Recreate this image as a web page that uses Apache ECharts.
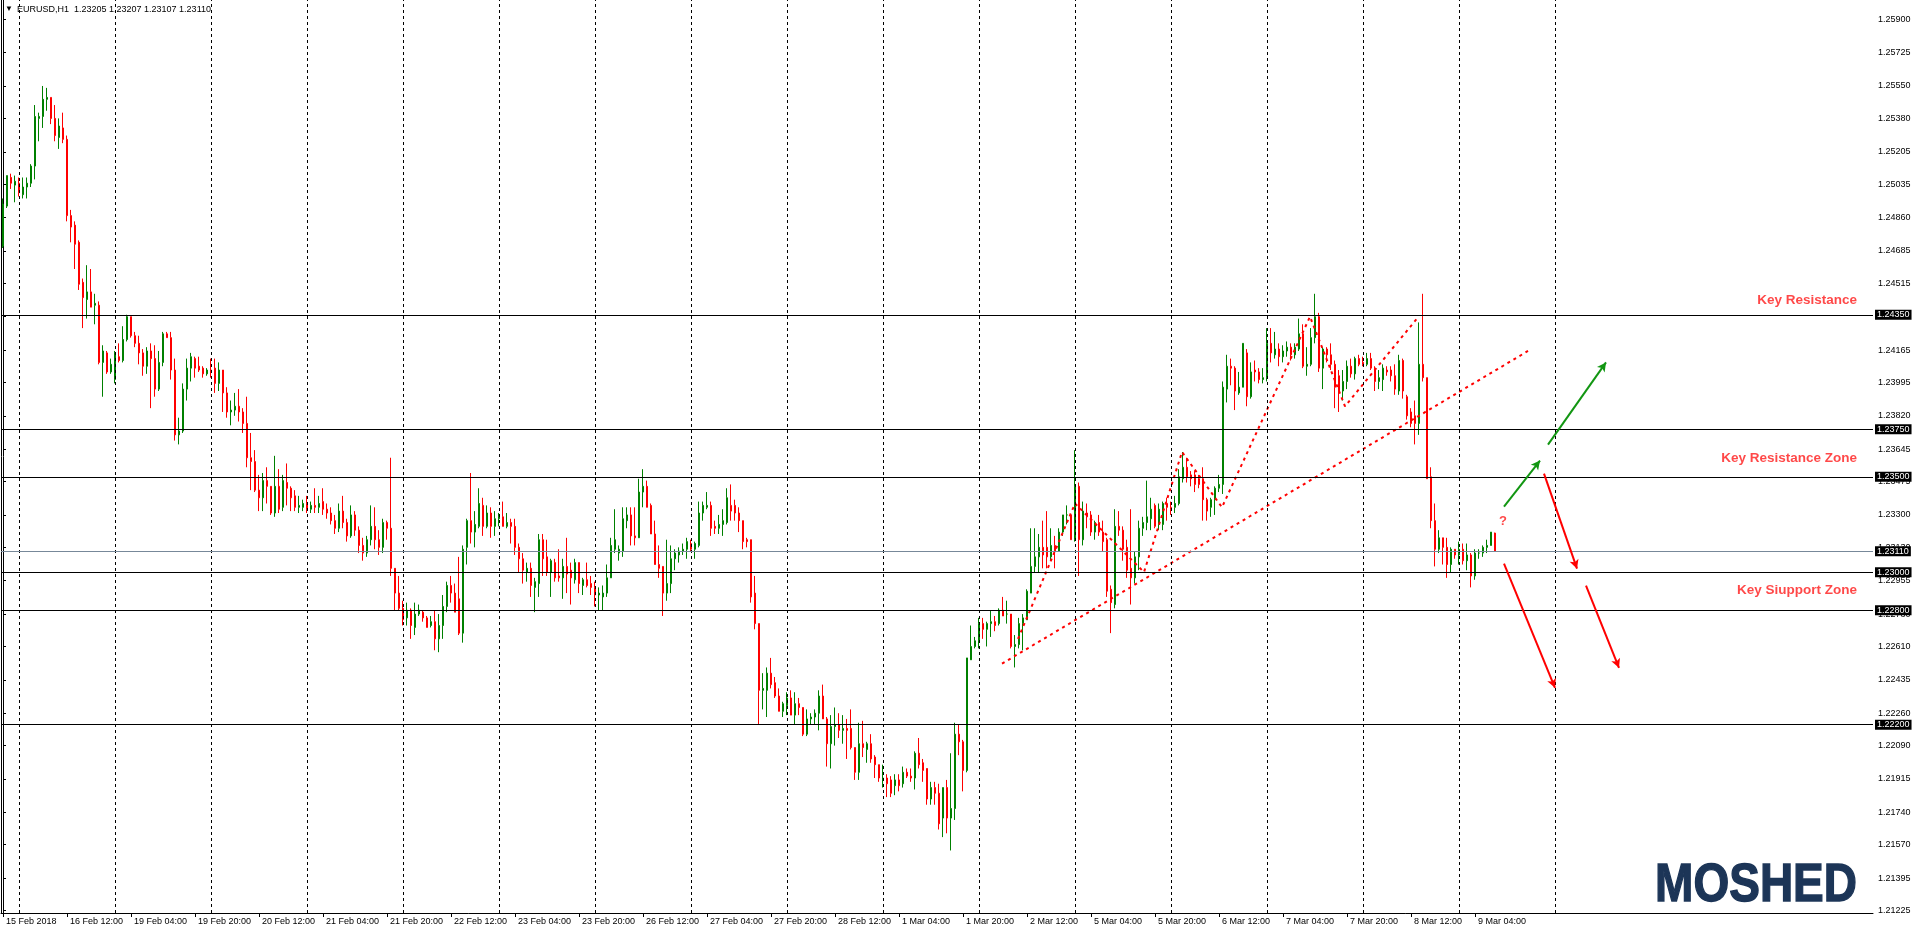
<!DOCTYPE html>
<html><head><meta charset="utf-8">
<script src="https://cdn.jsdelivr.net/npm/echarts@6/dist/echarts.min.js"></script>
<style>html,body{margin:0;padding:0;background:#fff;}#c{width:1916px;height:934px;}</style>
</head><body><div id="c"></div>
<script>
// ---- data ----
const symbolName = 'EURUSD,H1';
const timeLabels = ['15 Feb 2018','16 Feb 12:00','19 Feb 04:00','19 Feb 20:00','20 Feb 12:00','21 Feb 04:00','21 Feb 20:00','22 Feb 12:00','23 Feb 04:00','23 Feb 20:00','26 Feb 12:00','27 Feb 04:00','27 Feb 20:00','28 Feb 12:00','1 Mar 04:00','1 Mar 20:00','2 Mar 12:00','5 Mar 04:00','5 Mar 20:00','6 Mar 12:00','7 Mar 04:00','7 Mar 20:00','8 Mar 12:00','9 Mar 04:00'];
const priceTicks = [1.21225,1.21395,1.2157,1.2174,1.21915,1.2209,1.2226,1.22435,1.2261,1.2278,1.22955,1.2313,1.233,1.23475,1.23645,1.2382,1.23995,1.24165,1.2434,1.24515,1.24685,1.2486,1.25035,1.25205,1.2538,1.2555,1.25725,1.259];
const keyLevels = [1.2435,1.2375,1.2350,1.2300,1.2280,1.2220];
const bidPrice = 1.2311;
// hourly candles: [open, high, low, close]
const ohlc = [
[1.2471,1.2496,1.2470,1.2493],[1.2492,1.2508,1.2491,1.2508],[1.2507,1.2509,1.2501,1.2504],[1.2503,1.2508,1.2494,1.2505],[1.2504,1.2507,1.2497,1.2499],
[1.2498,1.2507,1.2496,1.2502],[1.2502,1.2507,1.2496,1.2504],[1.2504,1.2514,1.2502,1.2513],[1.2513,1.2545,1.2506,1.2539],[1.2538,1.2541,1.2526,1.2539],
[1.2539,1.2555,1.2533,1.2548],[1.2548,1.2554,1.2542,1.2549],[1.2549,1.2549,1.2535,1.2538],[1.2538,1.2545,1.2526,1.2529],[1.2528,1.2538,1.2522,1.2534],
[1.2533,1.2541,1.2525,1.2527],[1.2527,1.2529,1.2484,1.2487],[1.2487,1.2490,1.2473,1.2481],[1.2482,1.2484,1.2459,1.2472],[1.2473,1.2474,1.2448,1.2451],
[1.2452,1.2454,1.2428,1.2444],[1.2443,1.2461,1.2433,1.2447],[1.2447,1.2459,1.2439,1.2439],[1.2440,1.2446,1.2430,1.2441],[1.2440,1.2442,1.2409,1.2410],
[1.2410,1.2419,1.2392,1.2416],[1.2415,1.2416,1.2404,1.2405],[1.2405,1.2412,1.2404,1.2409],[1.2401,1.2416,1.2399,1.2415],[1.2413,1.2420,1.2410,1.2411],
[1.2411,1.2429,1.2410,1.2422],[1.2422,1.2435,1.2421,1.2434],[1.2434,1.2434,1.2423,1.2424],[1.2424,1.2426,1.2418,1.2420],[1.2420,1.2424,1.2409,1.2415],
[1.2415,1.2417,1.2403,1.2408],[1.2408,1.2418,1.2404,1.2416],[1.2416,1.2420,1.2386,1.2412],[1.2412,1.2419,1.2392,1.2396],[1.2396,1.2416,1.2395,1.2410],
[1.2410,1.2426,1.2408,1.2425],[1.2425,1.2426,1.2423,1.2423],[1.2423,1.2426,1.2401,1.2406],[1.2406,1.2412,1.2369,1.2372],[1.2372,1.2381,1.2367,1.2374],
[1.2374,1.2399,1.2373,1.2396],[1.2396,1.2412,1.2390,1.2407],[1.2407,1.2415,1.2400,1.2413],[1.2412,1.2413,1.2402,1.2407],[1.2408,1.2413,1.2405,1.2406],
[1.2407,1.2408,1.2402,1.2404],[1.2404,1.2407,1.2403,1.2406],[1.2406,1.2412,1.2402,1.2405],[1.2407,1.2412,1.2394,1.2399],[1.2399,1.2410,1.2395,1.2406],
[1.2406,1.2406,1.2384,1.2394],[1.2394,1.2397,1.2381,1.2384],[1.2384,1.2390,1.2377,1.2385],[1.2385,1.2394,1.2382,1.2387],[1.2387,1.2396,1.2379,1.2384],
[1.2384,1.2386,1.2373,1.2378],[1.2378,1.2392,1.2355,1.2360],[1.2360,1.2373,1.2343,1.2358],[1.2358,1.2364,1.2342,1.2343],[1.2343,1.2351,1.2332,1.2339],
[1.2339,1.2352,1.2332,1.2348],[1.2348,1.2355,1.2336,1.2345],[1.2345,1.2345,1.2330,1.2331],[1.2331,1.2361,1.2329,1.2345],[1.2345,1.2354,1.2331,1.2333],
[1.2334,1.2351,1.2332,1.2348],[1.2347,1.2357,1.2335,1.2344],[1.2344,1.2345,1.2332,1.2339],[1.2340,1.2343,1.2332,1.2334],[1.2334,1.2340,1.2331,1.2335],
[1.2334,1.2338,1.2332,1.2336],[1.2336,1.2340,1.2331,1.2333],[1.2333,1.2337,1.2331,1.2335],[1.2335,1.2344,1.2331,1.2334],[1.2334,1.2340,1.2331,1.2336],
[1.2337,1.2344,1.2330,1.2333],[1.2333,1.2336,1.2328,1.2331],[1.2331,1.2334,1.2325,1.2327],[1.2327,1.2330,1.2320,1.2323],[1.2323,1.2336,1.2321,1.2332],
[1.2332,1.2340,1.2323,1.2326],[1.2326,1.2328,1.2316,1.2319],[1.2319,1.2335,1.2318,1.2330],[1.2330,1.2332,1.2319,1.2322],[1.2322,1.2324,1.2310,1.2314],
[1.2314,1.2318,1.2306,1.2310],[1.2310,1.2319,1.2308,1.2317],[1.2317,1.2335,1.2314,1.2324],[1.2324,1.2334,1.2312,1.2317],[1.2317,1.2322,1.2309,1.2313],
[1.2313,1.2328,1.2310,1.2326],[1.2326,1.2327,1.2317,1.2323],[1.2323,1.2360,1.2298,1.2302],[1.2302,1.2302,1.2280,1.2289],[1.2289,1.2298,1.2280,1.2281],
[1.2281,1.2285,1.2272,1.2275],[1.2276,1.2284,1.2272,1.2280],[1.2280,1.2281,1.2265,1.2272],[1.2271,1.2284,1.2267,1.2278],[1.2278,1.2283,1.2277,1.2280],
[1.2279,1.2280,1.2274,1.2276],[1.2276,1.2277,1.2271,1.2271],[1.2272,1.2277,1.2271,1.2274],[1.2274,1.2280,1.2259,1.2265],[1.2265,1.2278,1.2258,1.2272],
[1.2272,1.2288,1.2265,1.2282],[1.2282,1.2295,1.2279,1.2293],[1.2293,1.2298,1.2284,1.2289],[1.2289,1.2294,1.2279,1.2279],[1.2286,1.2308,1.2267,1.2268],
[1.2268,1.2314,1.2263,1.2312],[1.2313,1.2328,1.2304,1.2327],[1.2327,1.2352,1.2315,1.2321],[1.2321,1.2332,1.2313,1.2325],[1.2324,1.2344,1.2323,1.2336],
[1.2335,1.2339,1.2319,1.2324],[1.2324,1.2335,1.2323,1.2331],[1.2331,1.2334,1.2318,1.2324],[1.2324,1.2332,1.2319,1.2328],[1.2328,1.2331,1.2324,1.2329],
[1.2329,1.2337,1.2324,1.2324],[1.2324,1.2331,1.2323,1.2326],[1.2326,1.2328,1.2315,1.2324],[1.2324,1.2328,1.2309,1.2313],[1.2313,1.2315,1.2300,1.2307],
[1.2307,1.2310,1.2294,1.2301],[1.2300,1.2305,1.2295,1.2302],[1.2302,1.2305,1.2287,1.2293],[1.2292,1.2297,1.2279,1.2295],[1.2294,1.2320,1.2287,1.2317],
[1.2317,1.2320,1.2298,1.2307],[1.2308,1.2317,1.2298,1.2300],[1.2300,1.2307,1.2287,1.2306],[1.2305,1.2307,1.2295,1.2297],[1.2298,1.2312,1.2295,1.2297],
[1.2297,1.2307,1.2286,1.2303],[1.2303,1.2318,1.2289,1.2299],[1.2301,1.2305,1.2283,1.2297],[1.2296,1.2307,1.2294,1.2305],[1.2305,1.2305,1.2289,1.2294],
[1.2293,1.2297,1.2288,1.2296],[1.2296,1.2305,1.2292,1.2293],[1.2294,1.2298,1.2288,1.2292],[1.2292,1.2295,1.2282,1.2288],[1.2288,1.2292,1.2280,1.2289],
[1.2287,1.2293,1.2280,1.2289],[1.2289,1.2304,1.2287,1.2297],[1.2297,1.2318,1.2297,1.2314],[1.2312,1.2333,1.2310,1.2317],[1.2310,1.2314,1.2306,1.2312],
[1.2311,1.2334,1.2308,1.2328],[1.2327,1.2334,1.2323,1.2330],[1.2330,1.2334,1.2314,1.2319],[1.2319,1.2334,1.2314,1.2318],[1.2318,1.2349,1.2318,1.2342],
[1.2342,1.2354,1.2334,1.2345],[1.2345,1.2348,1.2334,1.2334],[1.2335,1.2336,1.2320,1.2320],[1.2320,1.2327,1.2304,1.2304],[1.2304,1.2314,1.2297,1.2302],
[1.2303,1.2303,1.2277,1.2289],[1.2289,1.2317,1.2285,1.2294],[1.2294,1.2314,1.2289,1.2307],[1.2307,1.2312,1.2301,1.2310],[1.2309,1.2313,1.2305,1.2311],
[1.2311,1.2315,1.2309,1.2312],[1.2312,1.2318,1.2307,1.2316],[1.2315,1.2317,1.2311,1.2312],[1.2312,1.2316,1.2307,1.2315],[1.2314,1.2337,1.2313,1.2331],
[1.2331,1.2337,1.2327,1.2335],[1.2334,1.2342,1.2333,1.2335],[1.2335,1.2337,1.2319,1.2323],[1.2324,1.2327,1.2320,1.2323],[1.2323,1.2330,1.2320,1.2325],
[1.2325,1.2333,1.2319,1.2327],[1.2326,1.2344,1.2325,1.2339],[1.2335,1.2346,1.2327,1.2332],[1.2335,1.2338,1.2327,1.2331],[1.2331,1.2334,1.2321,1.2327],
[1.2327,1.2327,1.2312,1.2316],[1.2317,1.2318,1.2313,1.2316],[1.2317,1.2317,1.2284,1.2287],[1.2289,1.2298,1.2270,1.2273],[1.2273,1.2273,1.2220,1.2238],
[1.2238,1.2247,1.2228,1.2239],[1.2238,1.2250,1.2224,1.2247],[1.2247,1.2255,1.2239,1.2241],[1.2242,1.2245,1.2234,1.2235],[1.2235,1.2239,1.2227,1.2227],
[1.2227,1.2232,1.2224,1.2231],[1.2230,1.2237,1.2225,1.2234],[1.2234,1.2238,1.2225,1.2225],[1.2225,1.2237,1.2220,1.2231],[1.2231,1.2234,1.2225,1.2229],
[1.2229,1.2229,1.2214,1.2215],[1.2215,1.2228,1.2214,1.2223],[1.2223,1.2226,1.2220,1.2224],[1.2224,1.2228,1.2220,1.2226],[1.2226,1.2238,1.2217,1.2235],
[1.2235,1.2241,1.2223,1.2223],[1.2223,1.2224,1.2198,1.2210],[1.2210,1.2225,1.2197,1.2219],[1.2219,1.2229,1.2209,1.2220],[1.2220,1.2226,1.2213,1.2217],
[1.2217,1.2225,1.2210,1.2218],[1.2218,1.2223,1.2202,1.2217],[1.2218,1.2228,1.2207,1.2208],[1.2208,1.2208,1.2191,1.2195],[1.2195,1.2221,1.2191,1.2210],
[1.2210,1.2222,1.2203,1.2208],[1.2207,1.2211,1.2200,1.2210],[1.2210,1.2215,1.2200,1.2202],[1.2203,1.2204,1.2192,1.2199],[1.2199,1.2199,1.2190,1.2192],
[1.2191,1.2199,1.2187,1.2192],[1.2192,1.2194,1.2182,1.2189],[1.2191,1.2193,1.2182,1.2184],[1.2188,1.2194,1.2183,1.2191],[1.2191,1.2194,1.2185,1.2188],
[1.2189,1.2198,1.2187,1.2195],[1.2195,1.2197,1.2192,1.2193],[1.2193,1.2197,1.2190,1.2192],[1.2192,1.2206,1.2186,1.2205],[1.2205,1.2213,1.2197,1.2199],
[1.2200,1.2202,1.2190,1.2196],[1.2197,1.2197,1.2178,1.2181],[1.2181,1.2190,1.2178,1.2187],[1.2187,1.2190,1.2178,1.2184],[1.2184,1.2189,1.2165,1.2168],
[1.2171,1.2187,1.2161,1.2187],[1.2187,1.2191,1.2163,1.2171],[1.2171,1.2205,1.2154,1.2176],[1.2176,1.2221,1.2170,1.2215],[1.2215,1.2220,1.2204,1.2211],
[1.2211,1.2212,1.2185,1.2196],[1.2196,1.2255,1.2195,1.2255],[1.2254,1.2272,1.2254,1.2261],[1.2261,1.2266,1.2260,1.2264],[1.2264,1.2276,1.2260,1.2273],
[1.2273,1.2276,1.2265,1.2270],[1.2270,1.2274,1.2261,1.2273],[1.2273,1.2280,1.2266,1.2274],[1.2274,1.2277,1.2269,1.2272],[1.2273,1.2281,1.2272,1.2280],
[1.2280,1.2287,1.2277,1.2277],[1.2278,1.2285,1.2273,1.2278],[1.2278,1.2278,1.2260,1.2261],[1.2261,1.2267,1.2250,1.2262],[1.2262,1.2276,1.2260,1.2273],
[1.2273,1.2278,1.2259,1.2276],[1.2275,1.2291,1.2275,1.2290],[1.2289,1.2323,1.2289,1.2303],[1.2303,1.2323,1.2300,1.2308],[1.2308,1.2320,1.2300,1.2313],
[1.2313,1.2327,1.2302,1.2309],[1.2313,1.2332,1.2302,1.2308],[1.2308,1.2323,1.2306,1.2314],[1.2314,1.2319,1.2302,1.2311],[1.2311,1.2323,1.2311,1.2321],
[1.2321,1.2330,1.2319,1.2330],[1.2330,1.2335,1.2325,1.2330],[1.2330,1.2330,1.2317,1.2317],[1.2317,1.2364,1.2316,1.2345],[1.2345,1.2347,1.2298,1.2317],
[1.2317,1.2337,1.2314,1.2332],[1.2331,1.2336,1.2323,1.2329],[1.2330,1.2332,1.2319,1.2321],[1.2321,1.2327,1.2317,1.2326],[1.2326,1.2330,1.2319,1.2321],
[1.2321,1.2327,1.2311,1.2316],[1.2317,1.2318,1.2287,1.2290],[1.2291,1.2293,1.2268,1.2284],[1.2283,1.2333,1.2281,1.2324],[1.2324,1.2332,1.2319,1.2322],
[1.2322,1.2324,1.2306,1.2312],[1.2313,1.2317,1.2297,1.2301],[1.2302,1.2333,1.2283,1.2297],[1.2297,1.2311,1.2294,1.2308],[1.2308,1.2327,1.2301,1.2323],
[1.2323,1.2329,1.2319,1.2326],[1.2326,1.2348,1.2322,1.2329],[1.2328,1.2339,1.2322,1.2333],[1.2335,1.2336,1.2323,1.2324],[1.2325,1.2336,1.2322,1.2333],
[1.2325,1.2337,1.2322,1.2336],[1.2336,1.2339,1.2327,1.2334],[1.2334,1.2337,1.2330,1.2333],[1.2334,1.2340,1.2331,1.2336],[1.2336,1.2354,1.2335,1.2350],
[1.2349,1.2363,1.2347,1.2355],[1.2355,1.2360,1.2347,1.2350],[1.2351,1.2353,1.2345,1.2349],[1.2351,1.2353,1.2342,1.2346],[1.2349,1.2351,1.2344,1.2346],
[1.2349,1.2355,1.2327,1.2338],[1.2338,1.2339,1.2327,1.2332],[1.2334,1.2339,1.2329,1.2338],[1.2338,1.2345,1.2330,1.2344],[1.2344,1.2351,1.2342,1.2346],
[1.2346,1.2400,1.2341,1.2397],[1.2396,1.2414,1.2389,1.2408],[1.2408,1.2412,1.2398,1.2407],[1.2407,1.2408,1.2385,1.2395],[1.2394,1.2405,1.2393,1.2397],
[1.2397,1.2420,1.2397,1.2420],[1.2415,1.2417,1.2387,1.2392],[1.2392,1.2410,1.2391,1.2405],[1.2406,1.2411,1.2400,1.2405],[1.2405,1.2407,1.2399,1.2401],
[1.2401,1.2407,1.2399,1.2402],[1.2402,1.2428,1.2400,1.2420],[1.2420,1.2428,1.2410,1.2415],[1.2414,1.2426,1.2412,1.2417],[1.2417,1.2420,1.2408,1.2413],
[1.2413,1.2419,1.2410,1.2416],[1.2416,1.2421,1.2413,1.2418],[1.2418,1.2420,1.2411,1.2414],[1.2414,1.2420,1.2412,1.2418],[1.2417,1.2433,1.2416,1.2425],
[1.2425,1.2430,1.2407,1.2408],[1.2408,1.2418,1.2403,1.2409],[1.2409,1.2428,1.2408,1.2423],[1.2423,1.2446,1.2420,1.2434],[1.2434,1.2436,1.2405,1.2407],
[1.2407,1.2418,1.2396,1.2417],[1.2417,1.2418,1.2410,1.2414],[1.2414,1.2420,1.2406,1.2409],[1.2409,1.2411,1.2386,1.2397],[1.2403,1.2406,1.2384,1.2395],
[1.2395,1.2406,1.2390,1.2400],[1.2400,1.2411,1.2396,1.2408],[1.2408,1.2412,1.2402,1.2404],[1.2404,1.2413,1.2401,1.2412],[1.2412,1.2414,1.2408,1.2409],
[1.2410,1.2413,1.2408,1.2409],[1.2409,1.2415,1.2408,1.2412],[1.2412,1.2415,1.2406,1.2407],[1.2407,1.2408,1.2395,1.2400],[1.2400,1.2406,1.2396,1.2402],
[1.2401,1.2409,1.2395,1.2407],[1.2406,1.2408,1.2403,1.2405],[1.2406,1.2408,1.2400,1.2403],[1.2403,1.2409,1.2393,1.2396],[1.2395,1.2414,1.2393,1.2411],
[1.2411,1.2412,1.2391,1.2395],[1.2392,1.2393,1.2380,1.2382],[1.2384,1.2386,1.2376,1.2378],[1.2382,1.2390,1.2367,1.2378],[1.2378,1.2431,1.2372,1.2409],
[1.2409,1.2446,1.2400,1.2402],[1.2402,1.2402,1.2349,1.2349],[1.2350,1.2355,1.2323,1.2327],[1.2327,1.2336,1.2303,1.2312],[1.2312,1.2322,1.2310,1.2318],
[1.2318,1.2318,1.2304,1.2313],[1.2313,1.2318,1.2297,1.2304],[1.2304,1.2313,1.2300,1.2312],[1.2312,1.2312,1.2307,1.2309],[1.2309,1.2316,1.2304,1.2312],
[1.2312,1.2315,1.2304,1.2306],[1.2306,1.2315,1.2301,1.2309],[1.2309,1.2310,1.2292,1.2298],[1.2298,1.2312,1.2296,1.2310],[1.2310,1.2312,1.2307,1.2310],
[1.2310,1.2314,1.2308,1.2313],[1.2313,1.2317,1.2310,1.2314],[1.2314,1.2321,1.2314,1.2321],[1.23205,1.23207,1.23107,1.23110]
];
// drawn annotations: [bar index, price]
const trendLine = [[249.75,1.2252],[381.25,1.2416]];
const zigzag = [[253.75,1.2265],[268,1.2336],[285.25,1.2300],[294.75,1.2363],[304.75,1.2334],[326.75,1.2434],[335.5,1.2387],[353.5,1.2433]];
const greenArrows = [[[375.25,1.23344],[384.25,1.23585]],[[386.25,1.23669],[400.75,1.2410]]];
const redArrows = [[[385.25,1.23517],[393.5,1.23018]],[[375.25,1.23044],[388,1.22393]],[[395.75,1.22929],[404,1.22498]]];
const zoneTexts = [['Key Resistance',463.5,1.24425],['Key Resistance Zone',463.5,1.23595],['Key Siupport Zone',463.5,1.22903]];
const questionMark = [375,1.23265];

// ---- chart ----
const slots = 468;
const categories = [];
for (let i = 0; i < slots; i++) categories.push(String(i));
const candleData = ohlc.map(r => [r[0], r[3], r[2], r[1]]);
const last = ohlc[ohlc.length - 1];
const header = symbolName + '  ' + last.map(v => v.toFixed(5)).join(' ');
const FONT = 'Liberation Sans';
const showTick = (idx) => idx % 16 === 0 && idx / 16 < timeLabels.length;

const levelLines = keyLevels.map(v => ({yAxis: v, lineStyle: {color: '#000', width: 1, type: 'solid'}}));
levelLines.push({yAxis: bidPrice, lineStyle: {color: '#778899', width: 1, type: 'solid'}});

const gridBars = [];
for (let k = 0; k <= 16; k++) gridBars.push({xAxis: 4.17 + 24 * k});

const arrowLines = [];
greenArrows.forEach(a => arrowLines.push([{coord: a[0], lineStyle: {color: '#129612', width: 2, type: 'solid'}, itemStyle: {color: '#129612'}}, {coord: a[1], itemStyle: {color: '#129612'}}]));
redArrows.forEach(a => arrowLines.push([{coord: a[0], lineStyle: {color: '#ff0000', width: 2, type: 'solid'}, itemStyle: {color: '#ff0000'}}, {coord: a[1], itemStyle: {color: '#ff0000'}}]));

const yMin = 1.21212, yMax = 1.26001;
const option = {
  animation: false,
  backgroundColor: '#fff',
  grid: {left: 1, right: 43, top: 0, bottom: 21, containLabel: false},
  xAxis: [{
    type: 'category', data: categories, boundaryGap: true,
    axisLine: {show: true, lineStyle: {color: '#000', width: 1}},
    axisTick: {show: true, alignWithLabel: true, length: 4, interval: showTick, lineStyle: {color: '#000'}},
    axisLabel: {interval: showTick, formatter: (v, idx) => timeLabels[idx / 16] || '', align: 'left', padding: [0, 0, 0, 3],
      margin: 4, fontFamily: FONT, fontSize: 9, color: '#000'},
    splitLine: {show: false}
  }, {
    type: 'value', min: -0.5, max: slots - 0.5, show: false
  }],
  yAxis: [{
    type: 'value', position: 'right', min: yMin, max: yMax, scale: true,
    axisLine: {show: true, lineStyle: {color: '#000', width: 1}},
    axisTick: {show: true, length: 3, customValues: priceTicks, lineStyle: {color: '#000'}},
    axisLabel: {customValues: priceTicks, formatter: v => v.toFixed(5), fontFamily: FONT, fontSize: 9, color: '#000', margin: 5},
    splitLine: {show: false}
  }, {
    type: 'value', position: 'left', min: yMin, max: yMax, scale: true,
    axisLine: {show: true, onZero: false, lineStyle: {color: '#000', width: 1}},
    axisTick: {show: false}, axisLabel: {show: false}, splitLine: {show: false}
  }],
  graphic: [
    {type: 'text', left: 5, top: 5, style: {text: '▼', font: '8px ' + FONT, fill: '#000'}},
    {type: 'text', left: 17, top: 5, style: {text: header, font: '9px ' + FONT, fill: '#000'}},
    {type: 'text', x: 1857, y: 913, scaleY: 1.18,
      style: {text: 'MOSHED', font: 'bold 46px ' + FONT, fill: '#1c3557', stroke: '#1c3557', lineWidth: 1.2,
        align: 'right', verticalAlign: 'bottom'}}
  ],
  series: [
    {
      name: 'grid', type: 'line', xAxisIndex: 1, yAxisIndex: 0, data: [], silent: true,
      markLine: {silent: true, symbol: ['none', 'none'], label: {show: false}, precision: 5,
        lineStyle: {color: '#000', width: 1, type: [3, 3]}, data: gridBars}
    },
    {
      name: 'EURUSD', type: 'candlestick', xAxisIndex: 0, yAxisIndex: 0, data: candleData,
      barWidth: 2, clip: false,
      itemStyle: {color: '#008000', color0: '#ff0000', borderColor: '#008000', borderColor0: '#ff0000', borderWidth: 1},
      markLine: {silent: true, symbol: ['none', 'none'], data: levelLines, precision: 5,
        label: {show: true, position: 'end', distance: 2, formatter: p => Number(p.value).toFixed(5),
          color: '#fff', backgroundColor: '#000', padding: [1, 2, 0, 2], fontFamily: FONT, fontSize: 9}}
    },
    {
      name: 'trend', type: 'line', xAxisIndex: 1, yAxisIndex: 0, data: trendLine, symbol: 'none', silent: true,
      lineStyle: {color: '#ff0000', width: 2, type: [3, 4]}
    },
    {
      name: 'zigzag', type: 'line', xAxisIndex: 1, yAxisIndex: 0, data: zigzag, symbol: 'none', silent: true,
      lineStyle: {color: '#ff0000', width: 2, type: [3, 4]}
    },
    {
      name: 'notes', type: 'scatter', xAxisIndex: 1, yAxisIndex: 0, symbolSize: 0, silent: true,
      data: zoneTexts.map(t => ({value: [t[1], t[2]], label: {show: true, formatter: t[0], position: 'left', distance: 0,
        align: 'right', verticalAlign: 'middle', color: '#ff1a1a', fontFamily: FONT, fontWeight: 'bold', fontSize: 13.5}}))
        .concat([{value: questionMark, label: {show: true, formatter: '?', position: 'inside', color: '#ff1a1a',
          fontFamily: FONT, fontWeight: 'bold', fontSize: 13}}]),
      markLine: {silent: true, symbol: ['none', 'arrow'], symbolSize: [7, 9], precision: 5, label: {show: false},
        lineStyle: {type: 'solid', width: 2}, data: arrowLines}
    }
  ]
};
const chart = echarts.init(document.getElementById('c'));
chart.setOption(option);
</script>
</body></html>
